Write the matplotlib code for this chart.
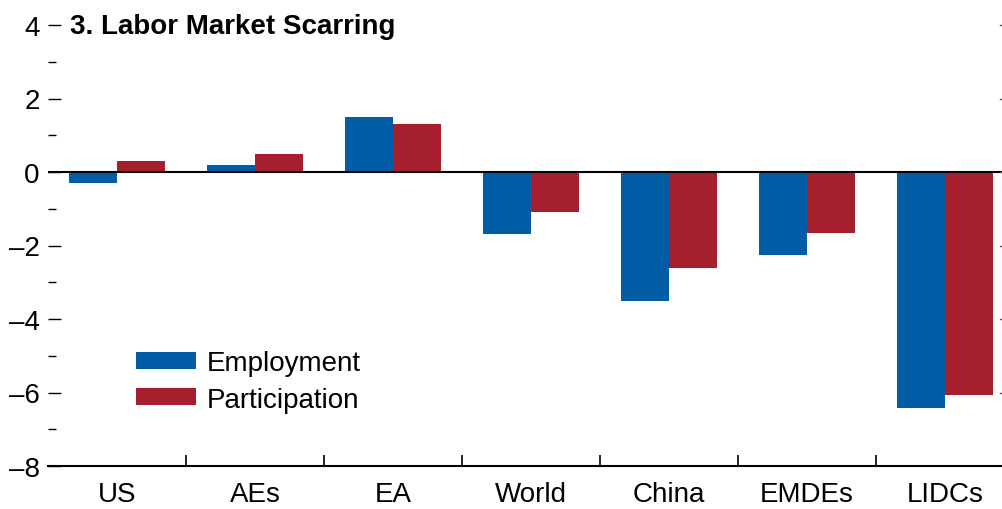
import numpy as np
import matplotlib
matplotlib.use('Agg')
import matplotlib.pyplot as plt
from matplotlib.ticker import MultipleLocator
from matplotlib import font_manager

# data
regions = ['US', 'AEs', 'EA', 'World', 'China', 'EMDEs', 'LIDCs']
employment = [-0.3, 0.2, 1.5, -1.7, -3.5, -2.27, -6.42]
participation = [0.3, 0.5, 1.3, -1.1, -2.6, -1.66, -6.08]
yticks = [4, 2, 0, -2, -4, -6, -8]

blue = '#005DA6'
red = '#A61F2E'

names = {f.name for f in font_manager.fontManager.ttflist}
fam = [n for n in ['Liberation Sans Narrow', 'DejaVu Sans Condensed', 'Liberation Sans'] if n in names]
plt.rcParams['font.family'] = fam + ['DejaVu Sans']

W, H = 1003, 510
fig = plt.figure(figsize=(W / 100, H / 100), dpi=100)
ax = fig.add_axes([48 / W, 1 - 467 / H, (W - 48) / W, (467 - 26) / H])

x = np.arange(len(regions))
bw = 0.35
ax.bar(x - bw / 2, employment, bw, color=blue, label='Employment')
ax.bar(x + bw / 2, participation, bw, color=red, label='Participation')

ax.set_ylim(-8, 4)
ax.set_xlim(-0.5, -0.5 + (W - 48) / 138)
ax.axhline(0, color='black', lw=1.5)

for s in ['left', 'top', 'right']:
    ax.spines[s].set_visible(False)
ax.spines['bottom'].set_linewidth(1.5)

ax.set_yticks(yticks)
ax.set_yticklabels([str(v).replace('-', '\u2013') for v in yticks])
ax.yaxis.set_minor_locator(MultipleLocator(1))
ax.tick_params(axis='y', which='major', direction='in', length=9, width=1,
               labelsize=20, pad=6, right=False)
ax.tick_params(axis='y', which='minor', direction='in', length=6, width=1, right=False)
# tiny marks on the (cropped) right axis
for v in yticks[:-1]:
    ax.plot([1.0 - 2.5 / (W - 48), 1.0], [v, v], color='#555555', lw=1,
            transform=ax.get_yaxis_transform(), clip_on=False)

ax.set_xticks(x)
ax.set_xticklabels(regions)
ax.set_xticks(np.arange(len(regions) - 1) + 0.5, minor=True)
ax.tick_params(axis='x', which='major', length=0, labelsize=20, pad=11)
ax.tick_params(axis='x', which='minor', direction='in', length=8, width=1.2)

ax.text(70 / W, 1 - 27 / H, '3. Labor Market Scarring', transform=fig.transFigure,
        fontsize=20, fontweight='bold', va='center', ha='left')

ax.legend(loc='upper left', bbox_to_anchor=(80 / (W - 48), (467 - 343) / (467 - 26)),
          bbox_transform=ax.transAxes, frameon=False, fontsize=20, handlelength=2.16,
          handleheight=0.58, labelspacing=0.37, handletextpad=0.36, borderaxespad=0,
          borderpad=0.3)

fig.savefig('out.png', dpi=100)
